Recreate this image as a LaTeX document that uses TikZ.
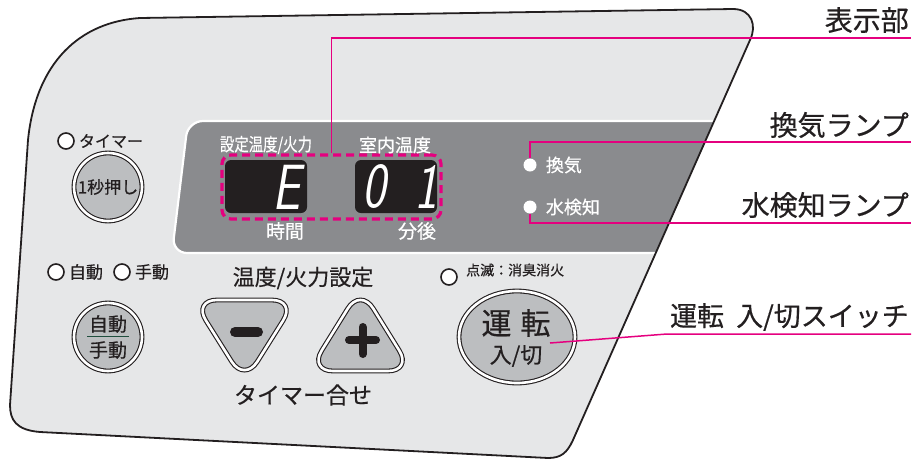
\documentclass[tikz,border=0pt]{standalone}
\usepackage{fontspec}
\setmainfont{Noto Sans CJK JP}[RawFeature={embolden=0.5}]
\usepackage{tikz}
\usetikzlibrary{positioning,shapes.geometric,calc}

\definecolor{panelfill}{HTML}{E6E7E8}
\definecolor{lcdfill}{HTML}{8A8B8E}
\definecolor{keyfill}{HTML}{BCBEC0}
\definecolor{inkblack}{HTML}{231F20}
\definecolor{leadpink}{HTML}{E5007F}
\definecolor{rulegreen}{HTML}{1F4E3D}

% outline of the control panel
\newcommand\panelpath{(28,140) .. controls (36,62) and (80,22) .. (140,18) -- (733,9) .. controls (752,9) and (757,26) .. (750,40) -- (573,440) .. controls (567,453) and (561,458) .. (548,458) -- (40,432) .. controls (16,430) and (10,420) .. (10,405) -- cycle}
\newcommand\fs[1]{\fontsize{#1}{#1}\selectfont}
\newcommand\seg[1]{\scalebox{0.78}[1]{#1}}

\begin{document}
\begin{tikzpicture}[x=1pt, y=-1pt,
  txt/.style={inner sep=0pt, text=inkblack, font=\fs{17}},
  lcdtxt/.style={inner sep=0pt, text=white, font=\fs{19}},
  callout/.style={inner sep=0pt, text=inkblack, font=\fs{28}, anchor=east},
  led/.style={circle, draw=inkblack, line width=1.6, fill=white, minimum size=16, inner sep=0pt},
  lamp/.style={circle, fill=white, minimum size=13, inner sep=0pt},
  key/.style={draw=inkblack, line width=1.1, double=white, double distance=2.6,
    fill=keyfill, inner sep=0pt, text=inkblack},
  lcdbox/.style={fill=inkblack, rounded corners=6, minimum width=82, minimum height=53},
  digit/.style={text=white, inner sep=0pt, font=\fs{64}\sffamily\slshape},
  lead/.style={draw=leadpink, line width=1.5}
]
\useasboundingbox (0,0) rectangle (918,461);

% panel and display window
\fill[panelfill] \panelpath;
\begin{scope}
  \clip \panelpath;
  \draw[white, line width=2.2, fill=lcdfill, rounded corners=15]
    (188,121) -- (780,121) -- (780,253) -- (172,253) -- cycle;
\end{scope}
\draw[inkblack, line width=1.8] \panelpath;

% display
\node[lcdbox] (lcdl) at (266,186.5) {};
\node[lcdbox] (lcdr) at (396,186.5) {};
\node[digit] at (286,187) {\seg{E}};
\node[digit] at (374,187) {\seg{0}};
\node[digit] at (426,187) {\seg{1}};
\node[draw=leadpink, line width=3.2, dash pattern=on 8 off 5, rounded corners=9,
  minimum width=219, minimum height=64, inner sep=0pt] (frame) at (331.5,187) {};
\node[lcdtxt, font=\fs{18}] at (266,145) {\scalebox{0.8}[1]{設定温度/火力}};
\node[lcdtxt, font=\fs{18}] at (395,145) {室内温度};
\node[lcdtxt] at (285,231) {時間};
\node[lcdtxt] at (417,231) {分後};
\node[lamp] (vent) at (530,165) {};
\node[lcdtxt, font=\fs{18}, right=9pt of vent] {換気};
\node[lamp] (water) at (530,207) {};
\node[lcdtxt, font=\fs{18}, right=9pt of water] {水検知};

% left keys
\node[led] (timerled) at (66,141) {};
\node[txt, font=\fs{16}, right=4pt of timerled] {タイマー};
\node[key, circle, minimum size=68, font=\fs{17}] (secbtn) at (108,187) {1秒押し};
\node[led] (autoled) at (56,272) {};
\node[txt, right=4pt of autoled] {自動};
\node[led] (manled) at (122,272) {};
\node[txt, right=4pt of manled] {手動};
\node[key, circle, minimum size=68] (modebtn) at (108,337) {};
\node[txt, font=\fs{19}] at (108,324) {自動};
\node[txt, font=\fs{19}] at (108,350) {手動};
\draw[rulegreen, line width=0.8] ($(modebtn.center)+(-21,-0.5)$) -- ($(modebtn.center)+(21,-0.5)$);

% temperature keys
\node[txt, font=\fs{22}] at (303,278) {温度/火力設定};
\draw[key, rounded corners=24] (193,300) -- (296,300) -- (244.5,382) -- cycle;
\draw[inkblack, line width=10, line cap=round] (235,332) -- (258,332);
\draw[key, rounded corners=24] (360.5,288) -- (412,371) -- (309,371) -- cycle;
\draw[inkblack, line width=8, line cap=round] (349,340) -- (376,340) (362.5,327) -- (362.5,354);
\node[txt, font=\fs{23}] at (303,395) {タイマー合せ};

% power key
\node[led] (pwrled) at (449,277) {};
\node[txt, font=\fs{14}, anchor=west] at (466,270) {点滅：消臭消火};
\node[key, ellipse, minimum width=116, minimum height=92] (pwr) at (517,337) {};
\node[txt, font=\fs{30}] at (516,323) {運\hspace{0.3em}転};
\node[txt, font=\fs{22}] at (516,356) {入/切};

% callouts
\node[callout] at (909,20) {表示部};
\coordinate (dispend) at (911,38);
\draw[lead] (frame.north) |- (dispend);
\node[callout] at (909,125) {換気ランプ};
\coordinate (ventend) at (911,142);
\draw[lead] (vent.north) |- (ventend);
\node[callout] at (909,205) {水検知ランプ};
\coordinate (waterend) at (911,223);
\draw[lead] (water.south) |- (waterend);
\node[callout, font=\fs{27}] at (909,317) {運転\hspace{0.45em}入/切スイッチ};
\coordinate (pwrtip) at (550,343);
\coordinate (pwrbend) at (667,334);
\coordinate (pwrend) at (911,334);
\draw[lead] (pwrtip) -- (pwrbend) -- (pwrend);
\end{tikzpicture}
\end{document}
